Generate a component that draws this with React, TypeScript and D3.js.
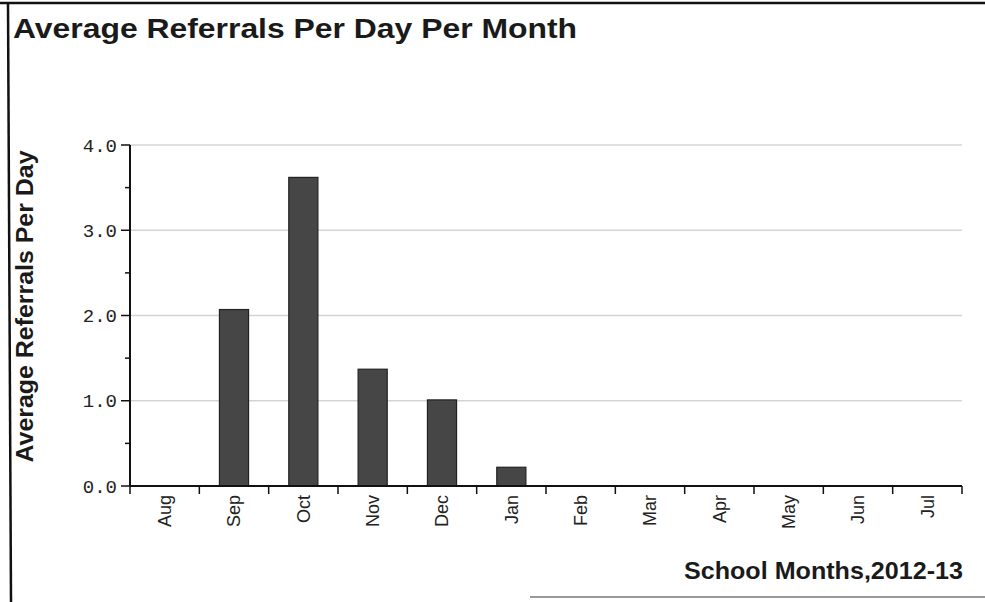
import { useEffect, useRef } from 'react';
import * as d3 from 'd3';

const months = ['Aug', 'Sep', 'Oct', 'Nov', 'Dec', 'Jan', 'Feb', 'Mar', 'Apr', 'May', 'Jun', 'Jul'];
const avgReferrals = [0, 2.07, 3.62, 1.37, 1.01, 0.22, 0, 0, 0, 0, 0, 0];
const yTicks = [0, 1, 2, 3, 4];
const yMinorTicks = [0.5, 1.5, 2.5, 3.5];

const chartTitle = 'Average Referrals Per Day Per Month';
const yTitle = 'Average Referrals Per Day';
const xTitle = 'School Months,2012-13';

export default function App() {
    const svgRef = useRef<SVGSVGElement>(null);

    useEffect(() => {
        if (!svgRef.current) return;
        const svg = d3.select(svgRef.current);
        svg.selectAll('*').remove();

        const width = 985;
        const height = 602;
        const left = 130;
        const right = 962;
        const top = 145;
        const bottom = 486;

        const sans = 'Arial, "Liberation Sans", sans-serif';
        const mono = '"Courier New", "Liberation Mono", monospace';

        const x = d3.scaleBand<string>()
            .domain(months)
            .range([left, right])
            .paddingInner(0.58)
            .paddingOuter(0.29);
        const y = d3.scaleLinear().domain([0, 4]).range([bottom, top]);

        // frame (scanned page border)
        svg.append('line')
            .attr('x1', 0).attr('x2', width).attr('y1', 3).attr('y2', 3)
            .attr('stroke', '#111').attr('stroke-width', 2.5);
        svg.append('line')
            .attr('x1', 8).attr('x2', 11).attr('y1', 3).attr('y2', height)
            .attr('stroke', '#111').attr('stroke-width', 2.5);
        svg.append('line')
            .attr('x1', 530).attr('x2', width).attr('y1', 597).attr('y2', 597)
            .attr('stroke', '#777').attr('stroke-width', 1.5);

        // title
        svg.append('text')
            .attr('x', 13).attr('y', 38)
            .attr('font-family', sans)
            .attr('font-weight', 'bold')
            .attr('font-size', 28)
            .attr('textLength', 564)
            .attr('lengthAdjust', 'spacingAndGlyphs')
            .attr('fill', '#1a1a1a')
            .text(chartTitle);

        // gridlines
        svg.append('g')
            .selectAll('line')
            .data(yTicks.filter(d => d > 0))
            .join('line')
            .attr('x1', left).attr('x2', right)
            .attr('y1', d => y(d)).attr('y2', d => y(d))
            .attr('stroke', '#d4d4d4')
            .attr('stroke-width', 1.5);

        // bars
        svg.append('g')
            .selectAll('rect')
            .data(months.map((m, i) => ({ m, v: avgReferrals[i] })).filter(d => d.v > 0))
            .join('rect')
            .attr('x', d => x(d.m)!)
            .attr('width', x.bandwidth())
            .attr('y', d => y(d.v))
            .attr('height', d => bottom - y(d.v))
            .attr('fill', '#464646')
            .attr('stroke', '#222')
            .attr('stroke-width', 1.2);

        // y axis
        const yAxis = svg.append('g');
        yAxis.append('line')
            .attr('x1', left).attr('x2', left).attr('y1', top).attr('y2', bottom)
            .attr('stroke', '#111').attr('stroke-width', 2);
        yAxis.selectAll('line.major')
            .data(yTicks)
            .join('line')
            .attr('class', 'major')
            .attr('x1', left - 9).attr('x2', left)
            .attr('y1', d => y(d)).attr('y2', d => y(d))
            .attr('stroke', '#111').attr('stroke-width', 1.5);
        yAxis.selectAll('line.minor')
            .data(yMinorTicks)
            .join('line')
            .attr('class', 'minor')
            .attr('x1', left - 5).attr('x2', left)
            .attr('y1', d => y(d)).attr('y2', d => y(d))
            .attr('stroke', '#111').attr('stroke-width', 1.5);
        yAxis.selectAll('text')
            .data(yTicks)
            .join('text')
            .attr('x', left - 13)
            .attr('y', d => y(d))
            .attr('dy', '0.35em')
            .attr('text-anchor', 'end')
            .attr('font-family', mono)
            .attr('font-size', 19)
            .attr('fill', '#222')
            .text(d => d.toFixed(1));

        // x axis
        const xAxis = svg.append('g');
        xAxis.append('line')
            .attr('x1', left).attr('x2', right).attr('y1', bottom).attr('y2', bottom)
            .attr('stroke', '#111').attr('stroke-width', 2);
        const boundaries = months.map(m => x(m)! - (x.step() - x.bandwidth()) / 2).concat([right]);
        xAxis.selectAll('line.tick')
            .data(boundaries)
            .join('line')
            .attr('class', 'tick')
            .attr('x1', d => d).attr('x2', d => d)
            .attr('y1', bottom).attr('y2', bottom + 8)
            .attr('stroke', '#111').attr('stroke-width', 1.5);
        xAxis.selectAll('text')
            .data(months)
            .join('text')
            .attr('transform', d => `translate(${x(d)! + x.bandwidth() / 2},${bottom + 9}) rotate(-90)`)
            .attr('dy', '0.35em')
            .attr('text-anchor', 'end')
            .attr('font-family', sans)
            .attr('font-size', 18)
            .attr('fill', '#222')
            .text(d => d);

        // axis titles
        svg.append('text')
            .attr('transform', `translate(33,${(top + bottom) / 2 - 9}) rotate(-90)`)
            .attr('text-anchor', 'middle')
            .attr('font-family', sans)
            .attr('font-weight', 'bold')
            .attr('font-size', 23)
            .attr('textLength', 312)
            .attr('lengthAdjust', 'spacingAndGlyphs')
            .attr('fill', '#1a1a1a')
            .text(yTitle);

        svg.append('text')
            .attr('x', 963).attr('y', 579)
            .attr('text-anchor', 'end')
            .attr('font-family', sans)
            .attr('font-weight', 'bold')
            .attr('font-size', 24)
            .attr('textLength', 279)
            .attr('lengthAdjust', 'spacingAndGlyphs')
            .attr('fill', '#1a1a1a')
            .text(xTitle);
    }, []);

    return (
        <svg
            ref={svgRef}
            width={985}
            height={602}
            style={{ position: 'absolute', left: 0, top: 0, background: '#fff' }}
        />
    );
}
